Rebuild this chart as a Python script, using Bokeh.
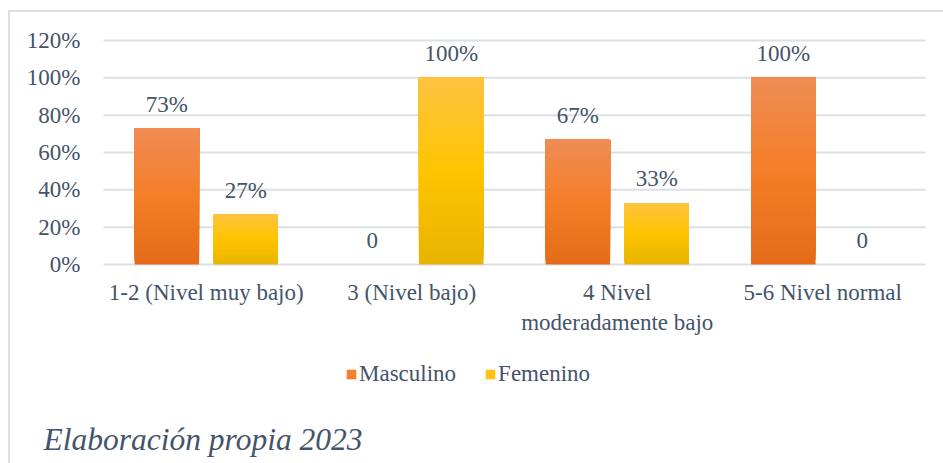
from bokeh.plotting import figure
from bokeh.models import (ColumnDataSource, Range1d, Legend, LegendItem, Label)
from bokeh.core.properties import value
from bokeh.embed import file_html
from bokeh.resources import INLINE

# ---- data ----
categories = ["1-2 (Nivel muy bajo)", "3 (Nivel bajo)", "4 Nivel\nmoderadamente bajo", "5-6 Nivel normal"]
masculino = [0.73, 0.0, 0.67, 1.00]
femenino = [0.27, 1.00, 0.33, 0.0]
masculino_labels = ["73%", "0", "67%", "100%"]
femenino_labels = ["27%", "100%", "33%", "0"]
y_ticks = [0, 0.2, 0.4, 0.6, 0.8, 1.0, 1.2]
y_tick_labels = ["0%", "20%", "40%", "60%", "80%", "100%", "120%"]
caption = "Elaboración propia 2023"

TEXT = "#44546A"
FONT = "Liberation Serif"
GRID = "#DCE0E6"
FS = "23px"

ORANGE = [(228, 108, 25), (244, 126, 40), (240, 140, 85)]
YELLOW = [(232, 180, 0), (255, 196, 0), (255, 195, 64)]


def grad(stops, t):
    if t <= 0.5:
        a, b, u = stops[0], stops[1], t / 0.5
    else:
        a, b, u = stops[1], stops[2], (t - 0.5) / 0.5
    c = [int(round(a[i] + (b[i] - a[i]) * u)) for i in range(3)]
    return "#%02x%02x%02x" % tuple(c)


OFF = 0.192   # dodge of each series from the category centre (category units)
BW = 0.314    # bar width (category units)
centers = [i + 0.5 for i in range(len(categories))]


def slices(vals, stops, off, n=40):
    # each slice spans from its own bottom up to the bar's value; later slices
    # paint over earlier ones, giving a seamless vertical gradient
    xs, bots, tops, cols = [], [], [], []
    for c, v in zip(centers, vals):
        if v <= 0:
            continue
        for i in range(n):
            xs.append(c + off)
            bots.append(v * i / n)
            tops.append(v)
            cols.append(grad(stops, (i + 0.5) / n))
    return ColumnDataSource(dict(x=xs, bottom=bots, top=tops, color=cols))


W, H = 943, 463
# plot area of the chart: x 103..925 px (4 categories), y 0%..120% at 264..40 px
x_range = Range1d(-103 / 205.5, len(categories) + 18 / 205.5)
y_range = Range1d(-199 * 1.2 / 224, 1.2 + 40 * 1.2 / 224)
p = figure(width=W, height=H, x_range=x_range, y_range=y_range,
           output_backend="svg", toolbar_location=None,
           min_border=0, x_axis_type=None, y_axis_type=None)
p.outline_line_color = None
p.background_fill_color = None
p.border_fill_color = None
p.grid.visible = False
p.styles = {"box-shadow": "inset 8px 0 0 0 white, inset 0 10px 0 0 white, "
                          "inset 10px 0 0 0 #DCE0E6, inset 0 12px 0 0 #DCE0E6",
            "background-color": "white"}

# horizontal grid lines
p.segment(x0=[0] * len(y_ticks), x1=[len(categories)] * len(y_ticks), y0=y_ticks, y1=y_ticks,
          line_color=GRID, line_width=2)

# y tick labels
p.text(x=[0] * len(y_ticks), y=y_ticks, text=y_tick_labels, x_offset=-23,
       text_align="right", text_baseline="middle",
       text_font=value(FONT), text_font_size=FS, text_color=TEXT)

# category labels
p.text(x=centers, y=[0] * len(categories), text=categories, y_offset=15,
       text_align="center", text_baseline="top", text_line_height=1.22,
       text_font=value(FONT), text_font_size=FS, text_color=TEXT)

# bars
p.vbar(x="x", bottom="bottom", top="top", width=BW, fill_color="color", line_color=None,
       source=slices(masculino, ORANGE, -OFF))
p.vbar(x="x", bottom="bottom", top="top", width=BW, fill_color="color", line_color=None,
       source=slices(femenino, YELLOW, OFF))

# data labels
p.text(x=[c - OFF for c in centers], y=masculino, text=masculino_labels,
       text_align="center", text_baseline="middle", y_offset=-24,
       text_font=value(FONT), text_font_size=FS, text_color=TEXT)
p.text(x=[c + OFF for c in centers], y=femenino, text=femenino_labels,
       text_align="center", text_baseline="middle", y_offset=-24,
       text_font=value(FONT), text_font_size=FS, text_color=TEXT)

# legend (zero-height proxy bars carry the swatch colours)
r_m = p.vbar(x=[centers[0]], bottom=[0], top=[0], width=0.001,
             fill_color=grad(ORANGE, 0.55), line_color=None)
r_f = p.vbar(x=[centers[0]], bottom=[0], top=[0], width=0.001,
             fill_color=grad(YELLOW, 0.65), line_color=None)
legend = Legend(items=[LegendItem(label="Masculino", renderers=[r_m]),
                       LegendItem(label="Femenino", renderers=[r_f])],
                orientation="horizontal", location=(345, 76),
                glyph_width=12, glyph_height=12, label_height=24, label_standoff=2,
                spacing=28, padding=0, margin=0, border_line_color=None,
                background_fill_alpha=0,
                label_text_font=FONT, label_text_font_size=FS, label_text_color=TEXT)
p.add_layout(legend, "center")

# caption
p.add_layout(Label(x=43, y=24, x_units="screen", y_units="screen", text=caption,
                   text_font=FONT, text_font_style="italic", text_font_size="31.5px",
                   text_color=TEXT, text_baseline="alphabetic"))

open("out.html", "w").write(file_html(p, INLINE))
